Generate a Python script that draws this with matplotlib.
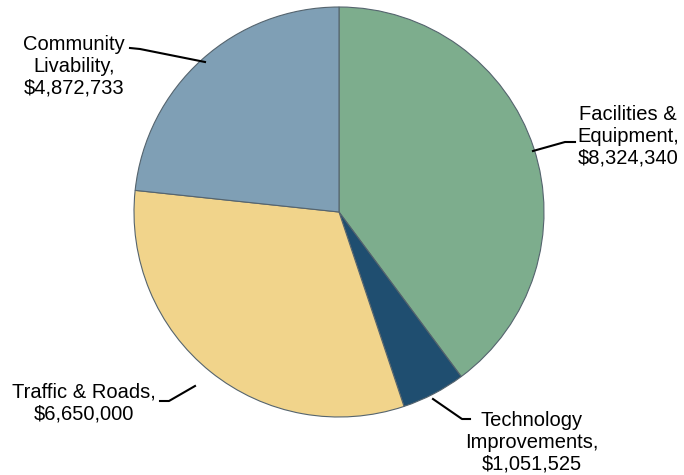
import matplotlib.pyplot as plt

labels = ['Facilities &\nEquipment,\n$8,324,340',
          'Technology\nImprovements,\n$1,051,525',
          'Traffic & Roads,\n$6,650,000',
          'Community\nLivability,\n$4,872,733']
values = [8324340, 1051525, 6650000, 4872733]
colors = ['#7dad8d', '#1f4e70', '#f1d48b', '#7f9fb5']

plt.rcParams['font.family'] = ['Liberation Sans', 'DejaVu Sans']

fig = plt.figure(figsize=(6.84, 4.75), dpi=100)
ax = fig.add_axes([0, 0, 1, 1])

# pie in pixel-like coords (y down), so angles go the other way
ax.pie(values, colors=colors, center=(339, 212), radius=205,
       startangle=-90, counterclock=True, frame=True,
       wedgeprops=dict(edgecolor='#55646e', linewidth=0.8))
ax.set_xlim(0, 684)
ax.set_ylim(475, 0)
ax.set_aspect('equal')
ax.axis('off')

# label positions (text center) and leader lines
text_pos = [(628, 136), (532, 442), (84, 403), (74, 66)]
leaders = [[(533, 151), (565, 142), (575, 142)],
           [(433, 399), (462, 419), (470, 419)],
           [(195, 386), (169, 401), (160, 401)],
           [(205, 62), (140, 49), (130, 48)]]

for lab, (tx, ty), pts in zip(labels, text_pos, leaders):
    xs, ys = zip(*pts)
    ax.plot(xs, ys, color='black', lw=1.5)
    ax.text(tx, ty, lab, ha='center', va='center', fontsize=14.5,
            linespacing=1.17)

fig.savefig('out.png', dpi=100)
